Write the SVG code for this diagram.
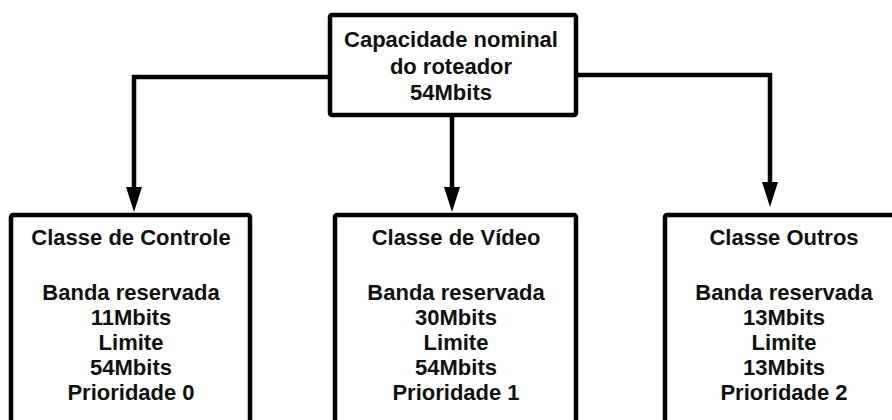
<svg xmlns="http://www.w3.org/2000/svg" width="892" height="420" viewBox="0 0 892 420">
<style>
.box{fill:#fff;stroke:#000;stroke-width:4.5}
.t{font-family:"Liberation Sans",Arial,sans-serif;font-weight:bold;font-size:22px;fill:#111;text-anchor:middle}
.c{fill:none;stroke:#000;stroke-width:4.5}
</style>
<defs>
<marker id="ah" markerUnits="userSpaceOnUse" markerWidth="25" markerHeight="16" viewBox="0 0 25 16" refX="0" refY="8" orient="auto">
<path d="M0,0 L25,8 L0,16 z" fill="#000"/>
</marker>
</defs>
<g id="connectors">
<path class="c" d="M330,77 H134 V187" marker-end="url(#ah)"/>
<path class="c" d="M452,115 V187" marker-end="url(#ah)"/>
<path class="c" d="M576,75 H770 V182" marker-end="url(#ah)"/>
</g>
<g id="top">
<rect class="box" x="330" y="15" width="246" height="100" rx="2"/>
<text class="t" x="451" y="47">Capacidade nominal</text>
<text class="t" x="451" y="74">do roteador</text>
<text class="t" x="451" y="100">54Mbits</text>
</g>
<g id="controle">
<rect class="box" x="11" y="215" width="239" height="220" rx="2"/>
<text class="t" x="131" y="245">Classe de Controle</text>
<text class="t" x="131" y="300">Banda reservada</text>
<text class="t" x="131" y="325">11Mbits</text>
<text class="t" x="131" y="350">Limite</text>
<text class="t" x="131" y="375">54Mbits</text>
<text class="t" x="131" y="400">Prioridade 0</text>
</g>
<g id="video">
<rect class="box" x="335" y="215" width="241" height="220" rx="2"/>
<text class="t" x="456" y="245">Classe de Vídeo</text>
<text class="t" x="456" y="300">Banda reservada</text>
<text class="t" x="456" y="325">30Mbits</text>
<text class="t" x="456" y="350">Limite</text>
<text class="t" x="456" y="375">54Mbits</text>
<text class="t" x="456" y="400">Prioridade 1</text>
</g>
<g id="outros">
<rect class="box" x="665" y="215" width="240" height="220" rx="2"/>
<text class="t" x="784" y="245">Classe Outros</text>
<text class="t" x="784" y="300">Banda reservada</text>
<text class="t" x="784" y="325">13Mbits</text>
<text class="t" x="784" y="350">Limite</text>
<text class="t" x="784" y="375">13Mbits</text>
<text class="t" x="784" y="400">Prioridade 2</text>
</g>
</svg>
